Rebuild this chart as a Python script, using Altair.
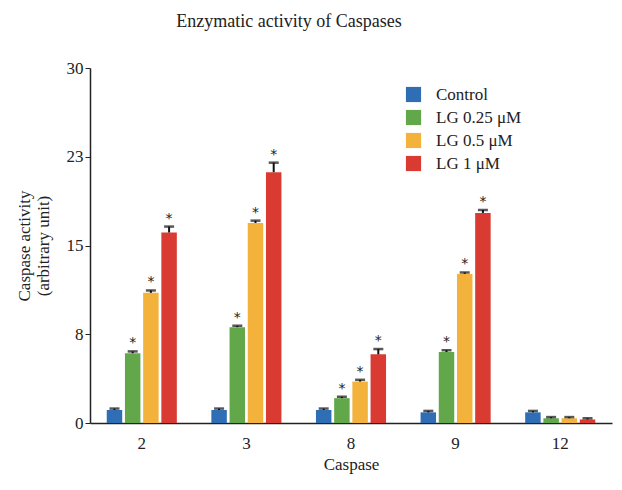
import altair as alt
import pandas as pd

caspases = ["2", "3", "8", "9", "12"]
groups = ["Control", "LG 0.25 μM", "LG 0.5 μM", "LG 1 μM"]
colors = ["#2f6db5", "#62a84a", "#f2b23c", "#d93b33"]

control = [1.1, 1.1, 1.1, 0.9, 0.9]
lg025 = [5.9, 8.1, 2.1, 6.0, 0.4]
lg05 = [11.0, 16.9, 3.5, 12.6, 0.4]
lg1 = [16.1, 21.2, 5.8, 17.75, 0.3]

err_control = [0.12, 0.12, 0.12, 0.12, 0.12]
err_lg025 = [0.15, 0.12, 0.12, 0.15, 0.1]
err_lg05 = [0.2, 0.2, 0.15, 0.12, 0.1]
err_lg1 = [0.5, 0.8, 0.45, 0.25, 0.1]

star_lg025 = [True, True, True, True, False]
star_lg05 = [True, True, True, True, False]
star_lg1 = [True, True, True, True, False]
star_control = [False] * 5

y_ticks = [0, 7.5, 15, 22.5, 30]

rows = []
for g, vals, errs, stars in zip(
    groups,
    [control, lg025, lg05, lg1],
    [err_control, err_lg025, err_lg05, err_lg1],
    [star_control, star_lg025, star_lg05, star_lg1],
):
    for c, v, e, s in zip(caspases, vals, errs, stars):
        rows.append({"caspase": c, "group": g, "value": v, "top": v + e, "star": s})
df = pd.DataFrame(rows)

FONT = "Liberation Serif"

x_enc = alt.X(
    "caspase:N",
    sort=caspases,
    scale=alt.Scale(paddingInner=0.33, paddingOuter=0.16),
    axis=alt.Axis(title="Caspase", labelAngle=0, ticks=False, labelPadding=12, titlePadding=5),
)
xo_enc = alt.XOffset("group:N", scale=alt.Scale(domain=groups, paddingInner=0.15))

base = alt.Chart(df)

bars = base.mark_bar().encode(
    x=x_enc,
    xOffset=xo_enc,
    y=alt.Y(
        "value:Q",
        scale=alt.Scale(domain=[0, 30], nice=False),
        axis=alt.Axis(
            title=["Caspase activity", "(arbitrary unit)"],
            values=y_ticks,
            labelExpr="round(datum.value)",
            titlePadding=14,
        ),
    ),
    color=alt.Color(
        "group:N",
        scale=alt.Scale(domain=groups, range=colors),
        legend=alt.Legend(
            title=None,
            orient="none",
            legendX=315,
            legendY=18,
            symbolType="square",
            symbolSize=230,
            symbolStrokeWidth=0,
            labelFontSize=17,
            labelFont=FONT,
            labelColor="#222222",
            rowPadding=5,
            labelOffset=14,
        ),
    ),
)

rules = base.mark_rule(color="#111111", strokeWidth=2).encode(
    x=x_enc, xOffset=xo_enc, y="value:Q", y2="top:Q"
)
caps = base.mark_tick(color="#111111", thickness=2.5, size=10).encode(
    x=x_enc, xOffset=xo_enc, y="top:Q"
)
stars = base.transform_filter("datum.star").mark_text(
    text="*", fontSize=14, font="DejaVu Sans", baseline="alphabetic", dy=-4, color="#222222"
).encode(x=x_enc, xOffset=xo_enc, y="top:Q")

chart = (
    alt.layer(bars, rules, caps, stars)
    .properties(
        width=522,
        height=355,
        title=alt.TitleParams(
            "Enzymatic activity of Caspases",
            font=FONT,
            fontSize=18,
            fontWeight="normal",
            color="#222222",
            offset=28,
            dx=-62,
        ),
        autosize=alt.AutoSizeParams(type="none"),
        padding={"left": 82, "top": 60, "right": 2, "bottom": 58},
    )
    .configure_axis(
        labelFont=FONT,
        titleFont=FONT,
        labelFontSize=17,
        titleFontSize=17,
        titleFontWeight="normal",
        labelColor="#222222",
        titleColor="#222222",
        domainColor="#222222",
        domainWidth=1.5,
        tickColor="#222222",
        tickSize=5,
        grid=False,
    )
    .configure_view(stroke=None)
)

chart.save("out.html", embed_options={"renderer": "svg", "actions": False})
